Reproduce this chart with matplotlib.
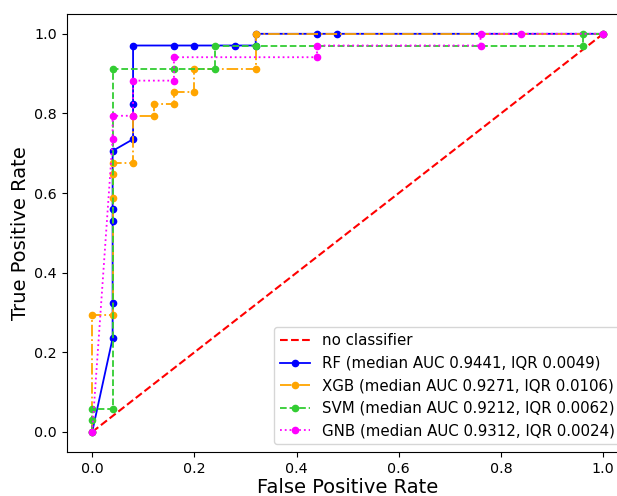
import numpy as np
from matplotlib import pyplot as plt

# ROC points (34 positives, 25 negatives)
n_pos = 34

rf_fpr = [0, 0.04, 0.04, 0.04, 0.04, 0.04, 0.08, 0.08, 0.08, 0.16, 0.2, 0.28, 0.32, 0.32, 0.44, 0.48, 1.0]
rf_tp = [0, 8, 11, 18, 19, 24, 25, 28, 33, 33, 33, 33, 33, 34, 34, 34, 34]

xgb_fpr = [0, 0, 0.04, 0.04, 0.04, 0.04, 0.08, 0.08, 0.12, 0.12, 0.16, 0.16, 0.2, 0.2, 0.32, 0.32, 1.0]
xgb_tp = [0, 10, 10, 20, 22, 23, 23, 27, 27, 28, 28, 29, 29, 31, 31, 34, 34]

svm_fpr = [0, 0, 0, 0.04, 0.04, 0.16, 0.24, 0.24, 0.32, 0.96, 0.96, 1.0]
svm_tp = [0, 1, 2, 2, 31, 31, 31, 33, 33, 33, 34, 34]

gnb_fpr = [0, 0.04, 0.04, 0.08, 0.08, 0.16, 0.16, 0.44, 0.44, 0.76, 0.76, 0.84, 1.0]
gnb_tp = [0, 25, 27, 27, 30, 30, 32, 32, 33, 33, 34, 34, 34]

labels = [
    'RF (median AUC 0.9441, IQR 0.0049)',
    'XGB (median AUC 0.9271, IQR 0.0106)',
    'SVM (median AUC 0.9212, IQR 0.0062)',
    'GNB (median AUC 0.9312, IQR 0.0024)',
]


def main():
    fig = plt.figure(figsize=(6.17, 4.96), dpi=100)
    ax = fig.add_axes([0.108, 0.089, 0.911, 0.883])

    ax.plot([0, 1], [0, 1], 'r--', lw=1.5, label='no classifier')

    curves = [
        (rf_fpr, rf_tp, '-', 'blue'),
        (xgb_fpr, xgb_tp, '-.', 'orange'),
        (svm_fpr, svm_tp, '--', 'limegreen'),
        (gnb_fpr, gnb_tp, ':', 'magenta'),
    ]
    for (fpr, tp, ls, col), lab in zip(curves, labels):
        tpr = np.asarray(tp) / n_pos
        ax.plot(fpr, tpr, linestyle=ls, marker='o', color=col, lw=1.3,
                markersize=4.5, label=lab)

    ax.set_xlim(-0.05, 1.05)
    ax.set_ylim(-0.05, 1.05)
    ax.set_xlabel('False Positive Rate', fontsize=14, labelpad=2)
    ax.set_ylabel('True Positive Rate', fontsize=14, labelpad=3)
    ax.tick_params(labelsize=10.3)
    ax.legend(loc='lower right', fontsize=10.8)

    fig.savefig('out.png', dpi=100)


if __name__ == '__main__':
    main()
